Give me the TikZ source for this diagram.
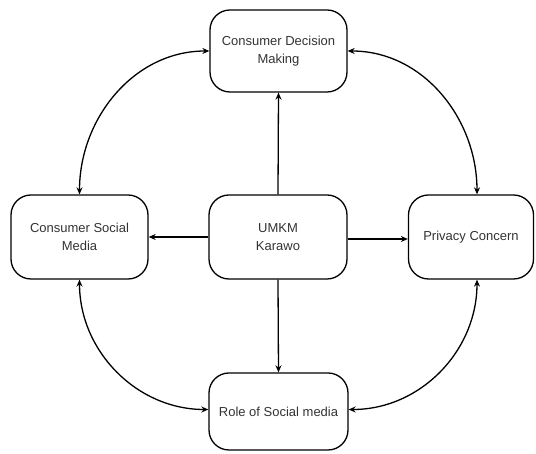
\documentclass[tikz,border=0pt]{standalone}
\usepackage{fontspec}
\setmainfont{Liberation Sans}
\usetikzlibrary{arrows.meta}
\begin{document}
\begin{tikzpicture}[x=1pt,y=1pt,
  box/.style={draw=black, line width=1.3pt, rounded corners=20pt, align=center,
    font=\fontsize{13}{17.5}\selectfont, text=black!80, inner sep=0pt},
  link/.style={line width=1.3pt, -{Stealth[length=7pt,width=6pt]}},
  both/.style={line width=1.3pt, {Stealth[length=7pt,width=6pt]}-{Stealth[length=7pt,width=6pt]}}]
\useasboundingbox (0,0) rectangle (536,454);
\node[box, minimum width=137pt, minimum height=82pt] (top) at (278.5,403) {Consumer Decision\\Making};
\node[box, minimum width=137pt, minimum height=84pt] (left) at (79.5,217) {Consumer Social\\Media};
\node[box, minimum width=138pt, minimum height=84pt] (mid) at (278,217) {UMKM\\Karawo};
\node[box, minimum width=125pt, minimum height=84pt] (right) at (471,217) {Privacy Concern};
\node[box, minimum width=139pt, minimum height=77pt] (bot) at (278.5,42.5) {Role of Social media};
\draw[link] (mid.north) -- (top.south);
\draw[link] (mid.south) -- (bot.north);
\draw[link] (mid.west) -- (left.east);
\draw[link] ([yshift=-2pt]mid.east) -- ([yshift=-2pt]right.west);
\draw[both] (left.north) to[out=90,in=180] (top.west);
\draw[both] ([xshift=6pt]right.north) to[out=90,in=0] (top.east);
\draw[both] (left.south) to[out=-90,in=180] ([yshift=2pt]bot.west);
\draw[both] ([xshift=6pt]right.south) to[out=-90,in=0] ([yshift=2pt]bot.east);
\end{tikzpicture}
\end{document}
